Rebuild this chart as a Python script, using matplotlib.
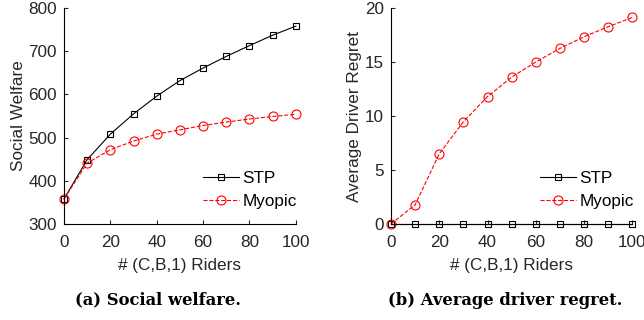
import matplotlib
matplotlib.use("Agg")
import matplotlib.pyplot as plt

riders = [0, 10, 20, 30, 40, 50, 60, 70, 80, 90, 100]
welfare_stp = [358, 449, 508, 555, 596, 632, 661, 688, 713, 737, 758]
welfare_myopic = [358, 441, 472, 492, 508, 518, 528, 536, 543, 549, 554]
regret_stp = [0, 0, 0, 0, 0, 0, 0, 0, 0, 0, 0]
regret_myopic = [0, 1.76, 6.49, 9.46, 11.8, 13.6, 15.0, 16.26, 17.34, 18.27, 19.13]

plt.rcParams['font.family'] = ['Liberation Sans', 'DejaVu Sans']
FS = 12.3

fig = plt.figure(figsize=(6.44, 3.2), dpi=100)
ax1 = fig.add_axes([0.0994, 0.30, 0.360, 0.675])
ax2 = fig.add_axes([0.607, 0.30, 0.375, 0.675])


def style(ax):
    for s in ['top', 'right']:
        ax.spines[s].set_visible(False)
    ax.tick_params(direction='in', length=3, width=0.8, labelsize=FS,
                   colors='#262626')
    ax.tick_params(axis='x', pad=8)
    ax.tick_params(axis='y', pad=5)
    ax.set_xlim(0, 100)
    ax.set_xticks([0, 20, 40, 60, 80, 100])
    ax.set_xlabel('# (C,B,1) Riders', fontsize=FS, color='#262626', labelpad=6)


def draw(ax, stp, myopic):
    ax.plot(riders, stp, '-', color='black', lw=0.8, marker='s', ms=4.5,
            mfc='none', mec='black', mew=0.8, label='STP', clip_on=False)
    ax.plot(riders, myopic, '--', color='red', lw=0.8, marker='o', ms=6.5,
            mfc='none', mec='red', mew=0.8, label='Myopic', clip_on=False)
    ax.legend(loc='lower right', frameon=False, handlelength=2.1,
              handletextpad=0.2, labelspacing=0.45, fontsize=FS,
              bbox_to_anchor=(1.07, 0.0))


draw(ax1, welfare_stp, welfare_myopic)
style(ax1)
ax1.set_ylim(300, 800)
ax1.set_yticks([300, 400, 500, 600, 700, 800])
ax1.set_ylabel('Social Welfare', fontsize=FS, color='#262626', labelpad=2)

draw(ax2, regret_stp, regret_myopic)
style(ax2)
ax2.set_ylim(0, 20)
ax2.set_yticks([0, 5, 10, 15, 20])
ax2.set_ylabel('Average Driver Regret', fontsize=FS, color='#262626', labelpad=2)

fig.text(0.245, 0.062, '(a) Social welfare.', ha='center', va='center',
         family='DejaVu Serif', weight='bold', fontsize=11.8)
fig.text(0.785, 0.062, '(b) Average driver regret.', ha='center', va='center',
         family='DejaVu Serif', weight='bold', fontsize=11.8)

fig.savefig('out.png', dpi=100)
